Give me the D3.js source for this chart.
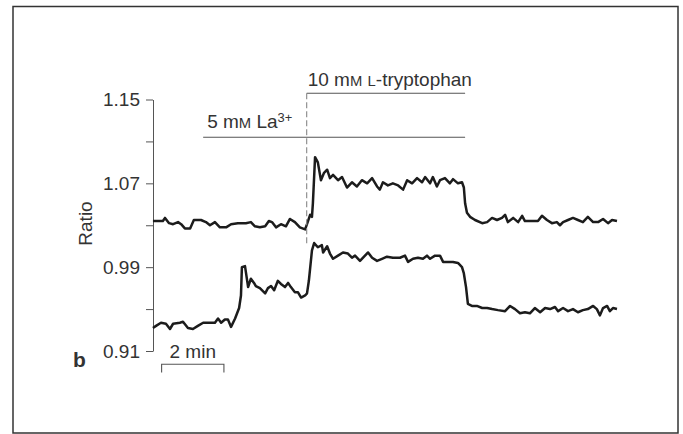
<!DOCTYPE html>
<html lang="en">
<head>
<meta charset="UTF-8">
<title>Ratio trace (b)</title>
<script src="https://d3js.org/d3.v7.min.js"></script>
<style>
  body { margin: 0; background: #fff; }
  svg text { font-family: "Liberation Sans", Arial, sans-serif; fill: #333; }
</style>
</head>
<body>
<svg id="main" width="683" height="434"></svg>
<script>
// [time (min), ratio]
const topTrace = [
  [0.03,1.034],[0.19,1.034],[0.35,1.034],[0.42,1.037],[0.55,1.032],[0.68,1.031],[0.84,1.033],[0.94,1.031],
  [1.06,1.027],[1.23,1.027],[1.35,1.035],[1.58,1.035],[1.74,1.033],[1.87,1.030],[2.03,1.033],[2.19,1.028],
  [2.39,1.028],[2.55,1.031],[2.77,1.032],[3.03,1.032],[3.19,1.033],[3.32,1.029],[3.48,1.028],[3.65,1.029],
  [3.77,1.034],[3.87,1.033],[4.00,1.028],[4.16,1.031],[4.32,1.029],[4.45,1.036],[4.61,1.033],[4.77,1.028],
  [4.94,1.026],[5.00,1.031],[5.10,1.040],[5.16,1.038],[5.19,1.051],[5.26,1.095],[5.35,1.090],[5.45,1.073],
  [5.55,1.080],[5.65,1.083],[5.74,1.075],[5.84,1.078],[6.00,1.073],[6.13,1.076],[6.29,1.066],[6.45,1.071],
  [6.61,1.067],[6.77,1.073],[6.94,1.070],[7.10,1.075],[7.26,1.067],[7.35,1.064],[7.45,1.071],[7.61,1.068],
  [7.77,1.070],[7.94,1.068],[8.10,1.064],[8.23,1.073],[8.39,1.070],[8.55,1.075],[8.71,1.071],[8.81,1.076],
  [8.97,1.070],[9.06,1.076],[9.19,1.067],[9.29,1.073],[9.45,1.075],[9.61,1.070],[9.71,1.074],[9.87,1.070],
  [10.00,1.071],[10.06,1.066],[10.10,1.051],[10.16,1.042],[10.26,1.038],[10.42,1.035],[10.65,1.032],[10.81,1.033],
  [10.97,1.037],[11.13,1.035],[11.29,1.037],[11.39,1.040],[11.48,1.033],[11.65,1.037],[11.81,1.033],[11.94,1.039],
  [12.03,1.034],[12.26,1.034],[12.45,1.034],[12.58,1.039],[12.74,1.035],[12.90,1.032],[13.06,1.033],[13.16,1.030],
  [13.26,1.033],[13.42,1.035],[13.58,1.037],[13.74,1.035],[13.90,1.033],[14.06,1.038],[14.23,1.033],[14.39,1.033],
  [14.55,1.036],[14.71,1.032],[14.84,1.035],[15.00,1.034]
];
const bottomTrace = [
  [0.03,0.932],[0.13,0.934],[0.29,0.937],[0.45,0.936],[0.58,0.931],[0.68,0.936],[0.90,0.937],[1.00,0.938],
  [1.16,0.932],[1.32,0.931],[1.48,0.934],[1.65,0.937],[1.87,0.937],[2.03,0.937],[2.13,0.941],[2.23,0.937],
  [2.35,0.940],[2.45,0.940],[2.55,0.933],[2.68,0.941],[2.81,0.951],[2.87,0.963],[2.90,0.990],[3.00,0.991],
  [3.03,0.985],[3.10,0.971],[3.19,0.979],[3.29,0.975],[3.35,0.972],[3.48,0.970],[3.65,0.965],[3.74,0.970],
  [3.84,0.972],[3.94,0.968],[4.06,0.977],[4.16,0.974],[4.29,0.971],[4.39,0.975],[4.48,0.971],[4.61,0.966],
  [4.71,0.966],[4.81,0.961],[4.94,0.963],[5.00,0.965],[5.06,0.977],[5.16,1.006],[5.23,1.013],[5.35,1.009],
  [5.48,1.011],[5.52,1.004],[5.65,1.010],[5.74,1.003],[5.84,0.998],[6.00,1.001],[6.16,1.004],[6.32,1.003],
  [6.45,0.999],[6.55,1.001],[6.71,0.996],[6.87,1.001],[6.97,1.004],[7.10,0.999],[7.26,0.996],[7.42,0.998],
  [7.58,1.000],[7.77,0.999],[8.00,0.999],[8.16,1.001],[8.26,0.995],[8.42,0.998],[8.58,0.999],[8.74,0.998],
  [8.87,1.001],[8.97,0.998],[9.13,1.001],[9.29,1.001],[9.39,0.995],[9.55,0.995],[9.71,0.995],[9.87,0.994],
  [10.00,0.990],[10.06,0.984],[10.13,0.971],[10.19,0.955],[10.32,0.953],[10.48,0.953],[10.65,0.951],[10.81,0.951],
  [10.97,0.950],[11.16,0.949],[11.39,0.948],[11.55,0.953],[11.71,0.950],[11.87,0.946],[12.03,0.947],[12.19,0.946],
  [12.35,0.951],[12.52,0.947],[12.68,0.951],[12.84,0.950],[13.00,0.952],[13.10,0.948],[13.26,0.951],[13.42,0.948],
  [13.58,0.950],[13.74,0.947],[13.90,0.949],[14.06,0.950],[14.23,0.953],[14.35,0.950],[14.45,0.944],[14.55,0.951],
  [14.68,0.953],[14.77,0.948],[14.87,0.951],[15.00,0.950]
];
const yTicks = [0.91, 0.95, 0.99, 1.03, 1.07, 1.11, 1.15];
const yTickLabels = ["0.91", "", "0.99", "", "1.07", "", "1.15"];
const laPeriod = [1.65, 10.1];     // 5 mM La3+
const trpPeriod = [4.99, 10.1];    // 10 mM L-tryptophan
const scaleBar = [0.31, 2.32];     // 2 min

const svg = d3.select("#main");
const x = d3.scaleLinear().domain([0, 15]).range([152, 617]);
const y = d3.scaleLinear().domain([0.91, 1.15]).range([351, 99.5]);
const fs = 19;

// frame
svg.append("rect")
    .attr("x", 13).attr("y", 6.5)
    .attr("width", 665).attr("height", 426.5)
    .attr("fill", "none").attr("stroke", "#333").attr("stroke-width", 1.5);

// y axis
const yAxis = svg.append("g")
    .attr("transform", "translate(153,0)")
    .call(d3.axisLeft(y).tickValues(yTicks)
        .tickFormat((d, i) => yTickLabels[i])
        .tickSize(7).tickSizeOuter(0).tickPadding(6));
yAxis.selectAll("path, line").attr("stroke", "#555");
yAxis.selectAll("text")
    .attr("font-family", null)
    .attr("font-size", fs);

svg.append("text")
    .attr("transform", "translate(92,223.5) rotate(-90)")
    .attr("text-anchor", "middle")
    .attr("font-size", fs)
    .text("Ratio");

svg.append("text")
    .attr("x", 73).attr("y", 367)
    .attr("font-size", 21).attr("font-weight", "bold")
    .attr("fill", "#222")
    .text("b");

// traces
const line = d3.line().x(d => x(d[0])).y(d => y(d[1]));
svg.selectAll(".trace")
    .data([topTrace, bottomTrace])
    .join("path")
    .attr("class", "trace")
    .attr("d", line)
    .attr("fill", "none")
    .attr("stroke", "#1c1c1c")
    .attr("stroke-width", 2.5)
    .attr("stroke-linejoin", "round");

// application bars
const barG = svg.append("g").attr("stroke", "#555").attr("stroke-width", 1.1);
barG.append("line")
    .attr("x1", x(laPeriod[0])).attr("x2", x(laPeriod[1]))
    .attr("y1", 137.3).attr("y2", 137.3);
barG.append("line")
    .attr("x1", x(trpPeriod[0])).attr("x2", x(trpPeriod[1]))
    .attr("y1", 93.3).attr("y2", 93.3);
barG.append("line")
    .attr("x1", x(trpPeriod[0])).attr("x2", x(trpPeriod[0]))
    .attr("y1", 93.3).attr("y2", 246)
    .attr("stroke", "#888").attr("stroke-dasharray", "6,3");

const laText = svg.append("text")
    .attr("x", x(laPeriod[0]) + 4).attr("y", 128)
    .attr("font-size", fs);
laText.append("tspan").text("5 m");
laText.append("tspan").attr("font-size", fs * 0.78).text("M");
laText.append("tspan").text(" La");
laText.append("tspan").attr("font-size", fs * 0.68).attr("dy", -6).text("3+");

const trpText = svg.append("text")
    .attr("x", x(trpPeriod[0]) + 1).attr("y", 86)
    .attr("font-size", fs);
trpText.append("tspan").text("10 m");
trpText.append("tspan").attr("font-size", fs * 0.78).text("M");
trpText.append("tspan").text(" ");
trpText.append("tspan").attr("font-size", fs * 0.78).text("L");
trpText.append("tspan").text("-tryptophan");

// time scale bar
const sb = svg.append("g").attr("stroke", "#555").attr("stroke-width", 1.1).attr("fill", "none");
sb.append("path")
    .attr("d", `M${x(scaleBar[0])},372.5V364.3H${x(scaleBar[1])}V372.5`);
svg.append("text")
    .attr("x", (x(scaleBar[0]) + x(scaleBar[1])) / 2).attr("y", 358)
    .attr("text-anchor", "middle")
    .attr("font-size", fs)
    .text("2 min");
</script>
</body>
</html>
